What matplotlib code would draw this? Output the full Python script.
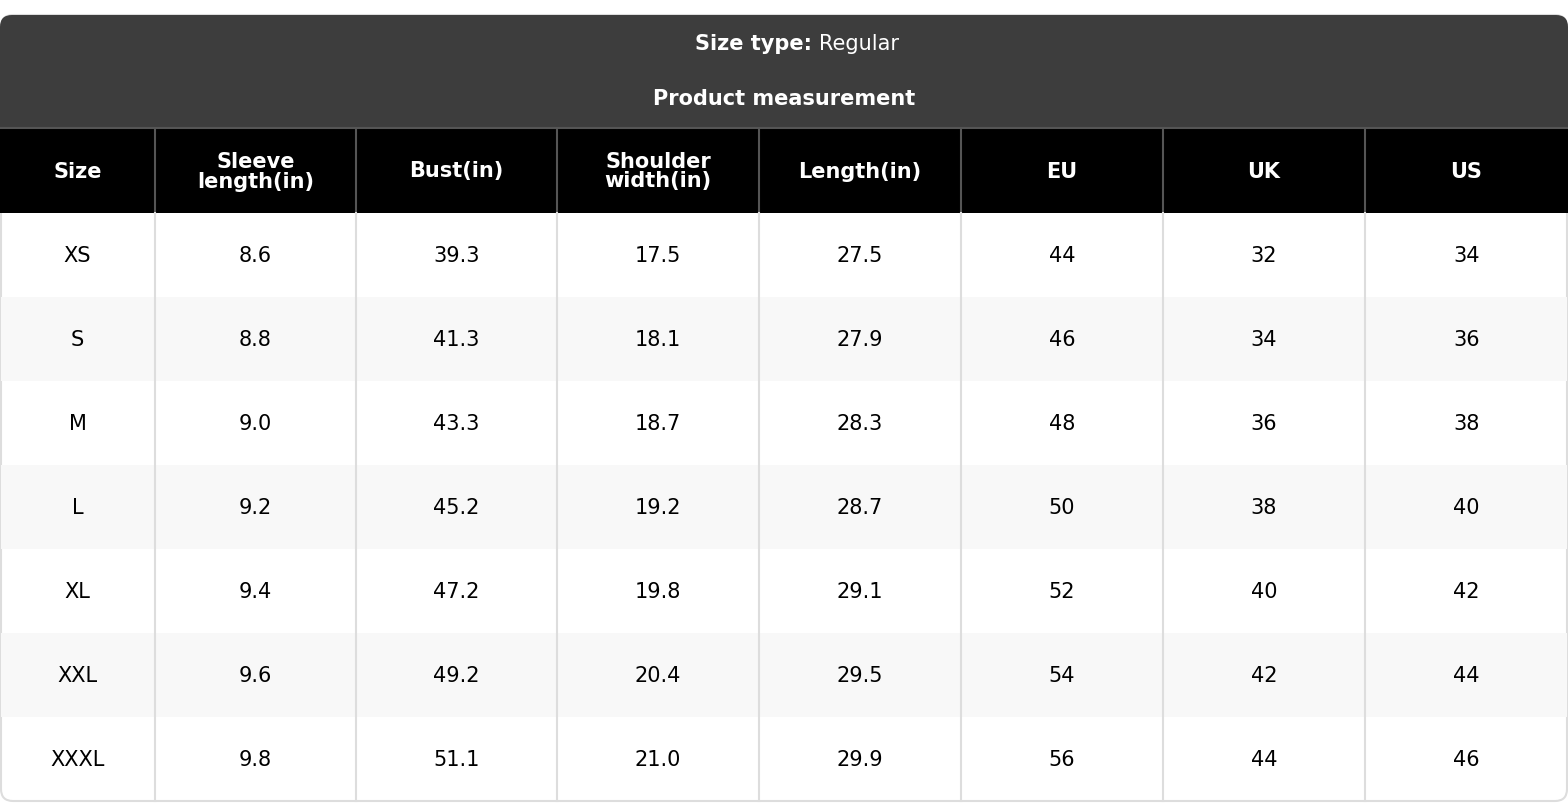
import matplotlib
matplotlib.use("Agg")
import matplotlib.pyplot as plt
from matplotlib.patches import Rectangle, FancyBboxPatch

columns = ["Size", "Sleeve\nlength(in)", "Bust(in)", "Shoulder\nwidth(in)", "Length(in)", "EU", "UK", "US"]
sizes = ["XS", "S", "M", "L", "XL", "XXL", "XXXL"]
sleeve = ["8.6", "8.8", "9.0", "9.2", "9.4", "9.6", "9.8"]
bust = ["39.3", "41.3", "43.3", "45.2", "47.2", "49.2", "51.1"]
shoulder = ["17.5", "18.1", "18.7", "19.2", "19.8", "20.4", "21.0"]
length = ["27.5", "27.9", "28.3", "28.7", "29.1", "29.5", "29.9"]
eu = ["44", "46", "48", "50", "52", "54", "56"]
uk = ["32", "34", "36", "38", "40", "42", "44"]
us = ["34", "36", "38", "40", "42", "44", "46"]
data_cols = [sizes, sleeve, bust, shoulder, length, eu, uk, us]

W, H = 1568, 804
fig = plt.figure(figsize=(W/100, H/100), dpi=100)
ax = fig.add_axes([0, 0, 1, 1])
ax.set_xlim(0, W); ax.set_ylim(H, 0); ax.axis("off")

xs = [0, 155, 356, 557, 759, 961, 1163, 1365, 1568]
top, band_bot, head_bot, row_h = 16, 129, 214, 84

# outer rounded container
ax.add_patch(FancyBboxPatch((1, top), W-2, H-top-2, boxstyle="round,pad=0,rounding_size=12",
                            fc="white", ec="#dddddd", lw=1.5, zorder=0))
ax.add_patch(FancyBboxPatch((0, top), W, 60, boxstyle="round,pad=0,rounding_size=12",
                            fc="#3d3d3d", ec="none", zorder=1))
ax.add_patch(Rectangle((0, top+20), W, band_bot-top-20, fc="#3d3d3d", ec="none", zorder=1))
ax.text(W/2, 44, "Size type: ", ha="right", va="center", color="white", fontsize=15, fontweight="bold", zorder=3)
ax.text(W/2, 44, "Regular", ha="left", va="center", color="white", fontsize=15, zorder=3)
# center the combined title
fig.canvas.draw()
ax.texts[0].set_x(W/2 + 35); ax.texts[1].set_x(W/2 + 35)
ax.text(W/2, 99, "Product measurement", ha="center", va="center", color="white", fontsize=15, fontweight="bold", zorder=3)

# header row
ax.add_patch(Rectangle((0, band_bot), W, head_bot-band_bot, fc="black", ec="none", zorder=1))
for i, c in enumerate(columns):
    cx = (xs[i] + xs[i+1]) / 2
    ax.text(cx, (band_bot+head_bot)/2, c, ha="center", va="center", color="white",
            fontsize=15, fontweight="bold", linespacing=1.0, zorder=3)
    if i > 0:
        ax.plot([xs[i], xs[i]], [band_bot, head_bot], color="#555555", lw=1.5, zorder=2)
ax.plot([0, W], [band_bot, band_bot], color="#555555", lw=1.5, zorder=2)

# body
for r in range(len(sizes)):
    y0 = head_bot + r*row_h
    if r % 2 == 1:
        ax.add_patch(Rectangle((1, y0), W-2, row_h, fc="#f8f8f8", ec="none", zorder=1))
    for i, col in enumerate(data_cols):
        cx = (xs[i] + xs[i+1]) / 2
        ax.text(cx, y0 + row_h/2, col[r], ha="center", va="center", color="black", fontsize=15, zorder=3)
for i in range(1, len(xs)-1):
    ax.plot([xs[i], xs[i]], [head_bot, H-2], color="#dddddd", lw=1.5, zorder=2)

fig.savefig("out.png", dpi=100)
